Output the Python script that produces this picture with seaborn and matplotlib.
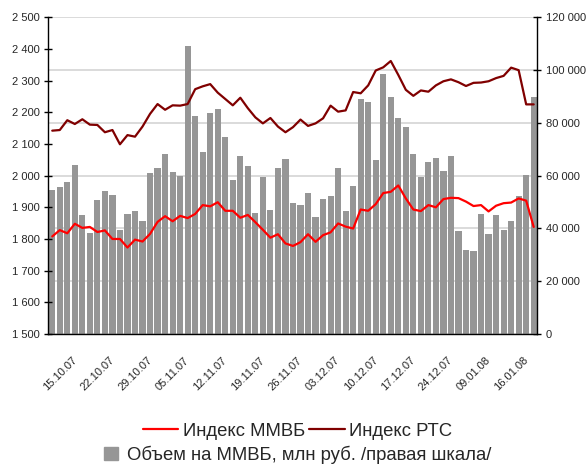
import numpy as np
import pandas as pd
import matplotlib
matplotlib.use("Agg")
import matplotlib.pyplot as plt
import matplotlib.transforms as mtransforms
from matplotlib.lines import Line2D
from matplotlib.patches import Patch
import seaborn as sns

# Trading days (category index) and labels shown every 5th day
tick_labels = ["15.10.07", "22.10.07", "29.10.07", "05.11.07", "12.11.07", "19.11.07",
               "26.11.07", "03.12.07", "10.12.07", "17.12.07", "24.12.07", "09.01.08", "16.01.08"]

# Trading volume on MICEX, mln rub (right axis)
volume = [54600, 55700, 57600, 64000, 45100, 38300, 50800, 54200, 52700, 39400,
          45500, 46600, 42800, 61000, 62900, 68200, 61400, 59900, 109100, 82600,
          69000, 83600, 85300, 74600, 58400, 67400, 63700, 45900, 59500, 47000,
          62900, 66300, 49800, 48900, 53400, 44300, 51200, 52300, 62900, 46600,
          56100, 89000, 87900, 65900, 98500, 89800, 81800, 78400, 68200, 59600,
          65200, 66700, 61800, 67400, 39000, 31800, 31500, 45500, 37900, 45100,
          39400, 42800, 52300, 60300, 89800]

# MICEX index (left axis)
micex = [1808, 1828, 1818, 1848, 1835, 1838, 1822, 1827, 1800, 1800,
         1773, 1798, 1792, 1816, 1854, 1872, 1856, 1873, 1866, 1879,
         1907, 1903, 1916, 1889, 1889, 1867, 1876, 1853, 1829, 1804,
         1815, 1786, 1778, 1790, 1815, 1791, 1812, 1821, 1849, 1839,
         1833, 1893, 1889, 1910, 1945, 1949, 1969, 1928, 1893, 1888,
         1907, 1900, 1926, 1930, 1929, 1918, 1904, 1907, 1887, 1905,
         1913, 1915, 1928, 1921, 1838]

# RTS index (left axis)
rts = [2142, 2144, 2175, 2163, 2178, 2161, 2160, 2137, 2144, 2099,
       2128, 2123, 2155, 2195, 2226, 2208, 2222, 2221, 2226, 2273,
       2282, 2289, 2262, 2242, 2222, 2246, 2213, 2184, 2165, 2182,
       2155, 2137, 2153, 2177, 2157, 2165, 2181, 2221, 2202, 2206,
       2264, 2260, 2285, 2332, 2342, 2362, 2318, 2271, 2252, 2269,
       2265, 2285, 2298, 2304, 2295, 2283, 2293, 2294, 2298, 2308,
       2315, 2341, 2333, 2225, 2225]

day = np.arange(len(volume))
df = pd.DataFrame({"day": day, "volume": volume, "micex": micex, "rts": rts})

sns.set_style("white")
plt.rcParams["font.family"] = ["Liberation Sans", "DejaVu Sans"]

bar_color = "#969696"
micex_color = "#ff0000"
rts_color = "#800000"

fig = plt.figure(figsize=(5.87, 4.66), dpi=100)
ax = fig.add_axes([0.0826, 0.2833, 0.8330, 0.6796])
ax2 = ax.twinx()

# volume bars on the right axis, behind the lines
sns.barplot(data=df, x="day", y="volume", ax=ax2, color=bar_color,
            saturation=1, width=0.82, native_scale=True, linewidth=0)
ax2.set_ylim(0, 120000)
ax2.set_yticks(np.arange(0, 120001, 20000))
ax2.set_yticklabels([f"{v:,}".replace(",", " ") for v in range(0, 120001, 20000)])
ax2.yaxis.grid(True, color="#d4d4d4", lw=1.2)
ax2.set_axisbelow(True)
ax2.set_ylabel("")
ax2.set_xlabel("")

# index lines on the left axis
sns.lineplot(data=df, x="day", y="micex", ax=ax, color=micex_color, lw=1.6)
sns.lineplot(data=df, x="day", y="rts", ax=ax, color=rts_color, lw=1.6)
ax.set_ylim(1500, 2500)
ax.set_yticks(np.arange(1500, 2501, 100))
ax.set_yticklabels([f"{v:,}".replace(",", " ") for v in range(1500, 2501, 100)])
ax.set_ylabel("")
ax.set_xlabel("")

ax.set_zorder(ax2.get_zorder() + 1)
ax.patch.set_visible(False)

ax.set_xlim(-0.5, len(day) - 0.5)
ax.set_xticks(np.arange(-0.5, len(day), 5))
ax.set_xticklabels([])
ax.set_xticks(day[::5], minor=True)
ax.set_xticklabels(tick_labels, minor=True, rotation=45, fontsize=8,
                   ha="center", va="center", rotation_mode="anchor")
ax.tick_params(axis="x", which="minor", length=0, pad=0)
ax.tick_params(axis="x", which="major", direction="out", length=4, width=1, color="black")
offset = mtransforms.ScaledTranslation(5.5 / 72, -28.5 / 72, fig.dpi_scale_trans)
for lab in ax.get_xticklabels(minor=True):
    lab.set_transform(lab.get_transform() + offset)

ax.tick_params(axis="y", direction="inout", length=6, width=1, labelsize=8,
               color="black", pad=3)
ax2.tick_params(axis="y", direction="inout", length=6, width=1, labelsize=8,
                color="black", pad=3)
ax2.tick_params(axis="x", length=0)

for s in ["top", "right"]:
    ax.spines[s].set_visible(False)
for s in ["top", "left", "bottom"]:
    ax2.spines[s].set_visible(False)
for s in ["left", "bottom"]:
    ax.spines[s].set_color("black")
    ax.spines[s].set_linewidth(1)
ax2.spines["right"].set_color("black")
ax2.spines["right"].set_linewidth(1)

# legend: two rows below the chart
line_handles = [Line2D([], [], color=micex_color, lw=1.6),
                Line2D([], [], color=rts_color, lw=1.6)]
fig.legend(line_handles, ["Индекс ММВБ", "Индекс РТС"], loc="center",
           bbox_to_anchor=(0.507, 0.075), ncol=2, frameon=False,
           fontsize=13.3, handlelength=1.9, handletextpad=0.25,
           columnspacing=0.25, borderpad=0)
fig.legend([Patch(color=bar_color)], ["Объем на ММВБ, млн руб. /правая шкала/"],
           loc="center", bbox_to_anchor=(0.507, 0.024), frameon=False,
           fontsize=13.3, handlelength=0.75, handleheight=0.75,
           handletextpad=0.5, borderpad=0)

fig.savefig("out.png", dpi=100)
